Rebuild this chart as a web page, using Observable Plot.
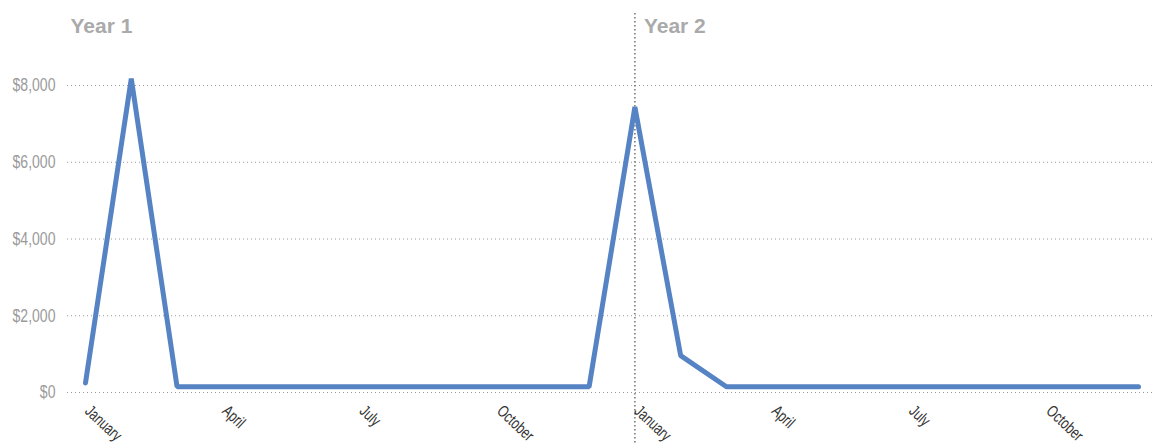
<!DOCTYPE html>
<html>
<head>
<meta charset="utf-8">
<script src="https://cdn.jsdelivr.net/npm/d3@7"></script>
<script src="https://cdn.jsdelivr.net/npm/@observablehq/plot@0.6"></script>
<style>
  html, body { margin: 0; padding: 0; background: #fff; }
</style>
</head>
<body>
<div id="chart"></div>
<script>
// Monthly values, two years (January Year 1 ... December Year 2)
const monthIndex = d3.range(24);
const values = [
  250, 8180, 150, 150, 150, 150, 150, 150, 150, 150, 150, 150,
  7440, 960, 150, 150, 150, 150, 150, 150, 150, 150, 150, 150
];
const tickMonths = [0, 3, 6, 9, 12, 15, 18, 21];
const tickLabels = ["January", "April", "July", "October", "January", "April", "July", "October"];
const yTicks = [0, 2000, 4000, 6000, 8000];
const yearLabels = ["Year 1", "Year 2"];
const yearStart = [0, 12];

const data = monthIndex.map((i) => ({ i, value: values[i] }));
const ticks = tickMonths.map((m, k) => ({ m, label: tickLabels[k] }));
const yFmt = d3.format("$,");

const sans = '"Liberation Sans", Arial, sans-serif';

const chart = Plot.plot({
  width: 1153,
  height: 444,
  marginLeft: 67,
  marginRight: 0,
  marginTop: 13,
  marginBottom: 0,
  style: { fontFamily: sans, background: "#fff", overflow: "visible" },
  x: { domain: [0, 23], range: [85, 1138], axis: null },
  y: { domain: [0, 8000], range: [392, 85], axis: null },
  marks: [
    Plot.gridY(yTicks, { stroke: "#999", strokeOpacity: 1, strokeDasharray: "1,3", strokeWidth: 1 }),
    Plot.text(yTicks, {
      frameAnchor: "left", y: (d) => d, text: yFmt, textAnchor: "end",
      dx: -12, fontSize: 18.5, fill: "#9a9a9a"
    }),
    Plot.ruleX([yearStart[1]], { stroke: "#666", strokeDasharray: "1.5,2.5", strokeWidth: 1.4 }),
    Plot.text(ticks, {
      x: "m", y: () => 0, text: "label", rotate: 43, textAnchor: "start",
      dx: 2, dy: 16, fontSize: 16.5, fill: "#333"
    }),
    Plot.line(data, {
      x: "i", y: "value", stroke: "#5683c4", strokeWidth: 5,
      strokeLinejoin: "miter", strokeLinecap: "round"
    }),
    Plot.text([yearLabels[0]], {
      frameAnchor: "top-left", text: (d) => d, textAnchor: "start", lineAnchor: "top",
      dx: 3, dy: 5, fontSize: 21, fontWeight: "bold", fill: "#aaa"
    }),
    Plot.text([yearStart[1]], {
      x: (d) => d, frameAnchor: "top", text: () => yearLabels[1], textAnchor: "start", lineAnchor: "top",
      dx: 9, dy: 5, fontSize: 21, fontWeight: "bold", fill: "#aaa"
    })
  ]
});

// condense the axis label glyphs horizontally (narrow font look)
const yLabelSet = new Set(yTicks.map(yFmt));
const xLabelSet = new Set(tickLabels);
chart.querySelectorAll("text").forEach((el) => {
  const s = el.textContent.trim();
  const k = yLabelSet.has(s) ? 0.76 : xLabelSet.has(s) ? 0.74 : null;
  if (k == null) return;
  let x = parseFloat(el.getAttribute("x")), y = parseFloat(el.getAttribute("y"));
  if (isNaN(x)) x = 0;
  if (isNaN(y)) y = 0;
  const tr = el.getAttribute("transform") || "";
  el.setAttribute("transform", `${tr} translate(${x},${y}) scale(${k},1) translate(${-x},${-y})`);
});

document.getElementById("chart").appendChild(chart);
</script>
</body>
</html>
